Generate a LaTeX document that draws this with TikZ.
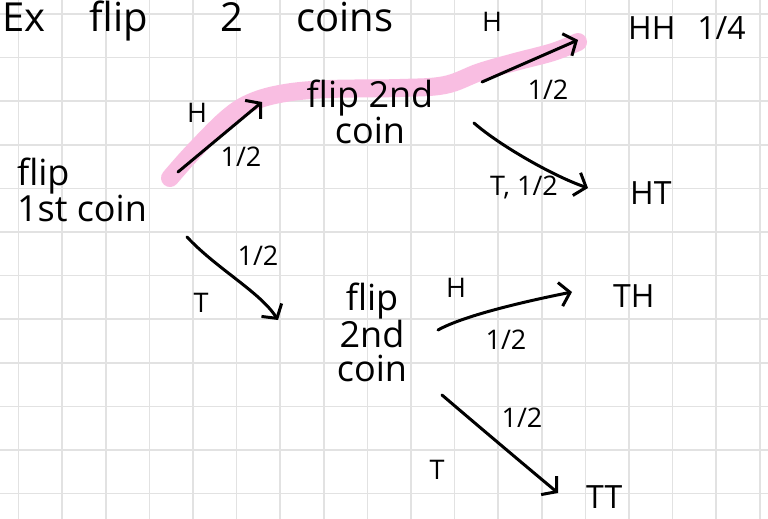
\documentclass[tikz,border=0pt]{standalone}
\usepackage{fontspec}
\setmainfont{Open Sans}
\usepackage{tikz}
\usetikzlibrary{arrows.meta, positioning, calc}
\definecolor{HighlightPink}{RGB}{249,190,226}
\definecolor{GridGray}{RGB}{226,226,226}

\begin{document}
\begin{tikzpicture}[x=1pt, y=-1pt,
	txt/.style={inner sep=0pt, align=center, font=\fontsize{36}{36}\selectfont},
	lbl/.style={inner sep=0pt, font=\fontsize{27}{27}\selectfont},
	res/.style={inner sep=0pt, anchor=west, font=\fontsize{32}{32}\selectfont},
	ln/.style={line width=3pt, line cap=round, line join=round, -{Straight Barb[length=10pt, width=24pt]}},
	hl/.style={line width=18pt, line cap=round, line join=round, HighlightPink},
	grid line/.style={line width=1.6pt, GridGray}]
	\useasboundingbox (0,0) rectangle (768,519);
	\clip (0,0) rectangle (768,519);
	\fill[white] (0,0) rectangle (768,519);
	\foreach \gx in {0,...,17} \draw[grid line] (18.5+43.6*\gx,0) -- (18.5+43.6*\gx,519);
	\foreach \gy in {0,...,11} \draw[grid line] (0,14+43.6*\gy) -- (768,14+43.6*\gy);

	\draw[hl] plot[smooth, tension=0.6] coordinates {(170,178) (193,152) (227,118) (252,102) (285,93) (330,89) (400,88) (445,85) (480,72) (515,62) (553,52) (578,42)};

	\node[anchor=base west, inner sep=0pt, font=\fontsize{40}{40}\selectfont] (ttl) at (2,32) {Ex\hspace{44pt}flip\hspace{73pt}2\hspace{53pt}coins};

	\node[txt, align=left] (c1) at (82,190) {flip\\1st coin};
	\node[txt] (u2) at (370,112) {flip 2nd\\coin};
	\node[txt, font=\fontsize{36}{34}\selectfont] (l2) at (372,332) {flip\\2nd\\coin};
	\node[res] (hh) at (628,28) {HH\hspace{22pt}1/4};
	\node[res] (ht) at (630,193) {HT};
	\node[res] (th) at (613,296) {TH};
	\node[res] (tt) at (586,497) {TT};

	\draw[ln] ([shift={(96,-18)}]c1.center) -- ([shift={(-108,-10)}]u2.center);
	\draw[ln] ([shift={(112,-30)}]u2.center) -- ([shift={(-50,12)}]hh.west);
	\draw[ln] ([shift={(104,11)}]u2.center) .. controls +(25,22) and +(-35,-12) .. ([shift={(-42,-5)}]ht.west);
	\draw[ln] ([shift={(105,47)}]c1.center) .. controls +(30,32) and +(-18,-28) .. ([shift={(-94,-12)}]l2.center);
	\draw[ln] ([shift={(66,-2)}]l2.center) .. controls +(25,-14) and +(-50,10) .. ([shift={(-41,-4)}]th.west);
	\draw[ln] ([shift={(70,63)}]l2.center) .. controls +(35,30) and +(-30,-25) .. ([shift={(-28,-4)}]tt.west);

	\node[lbl] (h1) at (197,113) {H};
	\node[lbl] (p1) at (241,157) {1/2};
	\node[lbl] (h2) at (492,22) {H};
	\node[lbl] (p2) at (548,90) {1/2};
	\node[lbl] (p3) at (524,187) {T, 1/2};
	\node[lbl] (p4) at (258,256) {1/2};
	\node[lbl] (t4) at (201,303) {T};
	\node[lbl] (h5) at (456,288) {H};
	\node[lbl] (p5) at (506,340) {1/2};
	\node[lbl] (p6) at (522,418) {1/2};
	\node[lbl] (t6) at (437,470) {T};
\end{tikzpicture}
\end{document}
